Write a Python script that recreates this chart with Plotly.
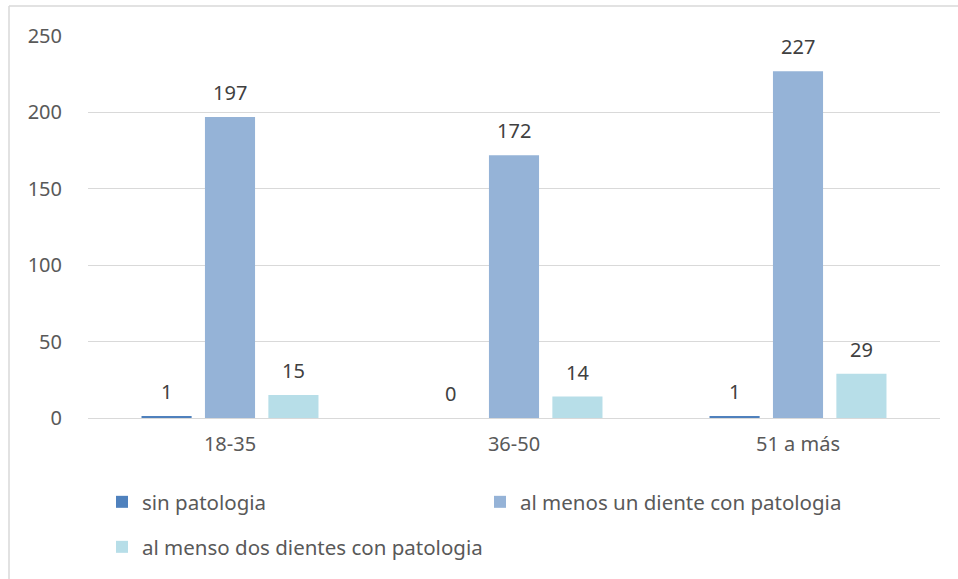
import plotly.graph_objects as go

categories = ["18-35", "36-50", "51 a más"]
series_names = ["sin patologia", "al menos un diente con patologia", "al menso dos dientes con patologia"]
sin_patologia = [1, 0, 1]
al_menos_uno = [197, 172, 227]
al_menos_dos = [15, 14, 29]
colors = ["#4F81BD", "#95B3D7", "#B7DEE8"]
y_ticks = [0, 50, 100, 150, 200, 250]

W, H = 958, 579
L, R, T, B = 88, 18, 36, 161
pw = W - L - R
ph = H - T - B
FONT = "Noto Sans"

series = [sin_patologia, al_menos_uno, al_menos_dos]
legends = ["legend", "legend", "legend2"]

fig = go.Figure()
for name, vals, col, lg in zip(series_names, series, colors, legends):
    fig.add_trace(go.Bar(
        x=categories, y=vals, name=name, legend=lg,
        marker=dict(color=col, line=dict(width=0)),
    ))

# data labels, placed above each bar
slot = pw / 3 * (1 - 0.33) / 3
for i, vals in enumerate(series):
    for c, v in zip(categories, vals):
        fig.add_annotation(x=c, y=v, xref="x", yref="y", text=str(v), showarrow=False,
                           xshift=(i - 1) * slot, yshift=9, yanchor="bottom",
                           font=dict(size=20, color="#404040", family=FONT))

def px_x(p):
    return (p - L) / pw

def px_y(p):
    return 1 - (p - T) / ph

leg_common = dict(orientation="h", xanchor="left", yanchor="middle",
                  font=dict(size=20.5, color="#595959", family=FONT),
                  itemclick=False, bgcolor="rgba(0,0,0,0)")

fig.update_layout(
    width=W, height=H,
    margin=dict(l=L, r=R, t=T, b=B),
    paper_bgcolor="white", plot_bgcolor="white",
    barmode="group", bargap=0.33, bargroupgap=0.21,
    font=dict(family=FONT, size=20, color="#595959"),
    xaxis=dict(showgrid=False, showline=True, linecolor="#D9D9D9", linewidth=1,
               ticks="", tickfont=dict(size=20, color="#595959"), ticklabelstandoff=8),
    yaxis=dict(range=[0, 250], tickvals=y_ticks, showgrid=True, gridcolor="#D9D9D9",
               gridwidth=1, zeroline=False, showline=False, ticks="",
               tickfont=dict(size=20, color="#595959"), ticklabelstandoff=25),
    legend=dict(x=px_x(102), y=px_y(502), entrywidth=333, entrywidthmode="pixels", **leg_common),
    legend2=dict(x=px_x(102), y=px_y(547), entrywidth=500, entrywidthmode="pixels", **leg_common),
    showlegend=True,
)
fig.add_shape(type="line", xref="paper", yref="paper",
              x0=px_x(9), x1=px_x(958), y0=px_y(6), y1=px_y(6),
              line=dict(color="#D9D9D9", width=1.5))
fig.add_shape(type="line", xref="paper", yref="paper",
              x0=px_x(9), x1=px_x(9), y0=px_y(6), y1=px_y(579),
              line=dict(color="#D9D9D9", width=1.5))

fig.write_html("out.html", config={"displayModeBar": False},
               post_script="document.body.style.margin='0';")
